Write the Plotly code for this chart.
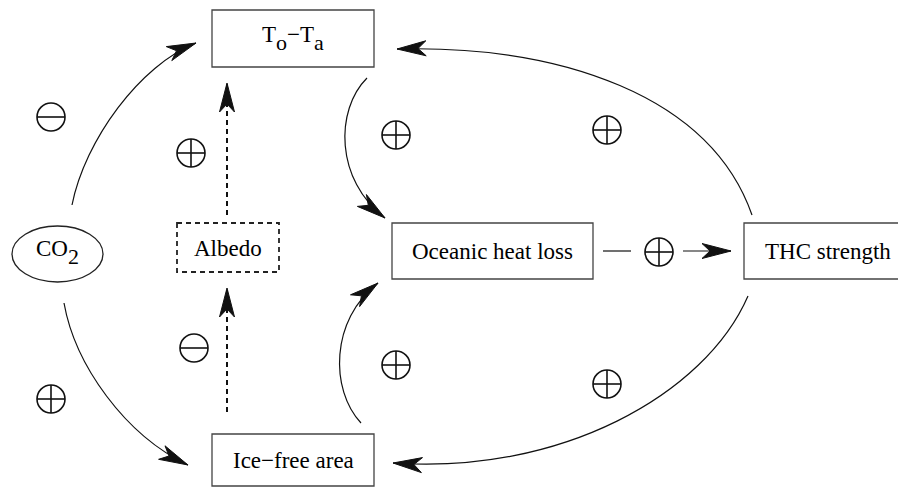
import math
import plotly.graph_objects as go

W, H = 898, 487

SUB = "<span style=\"font-size:22px;baseline-shift:-8px\">{}</span>"
# ---- nodes ----
node_labels = ["T" + SUB.format("o") + "−T" + SUB.format("a"),
               "CO" + SUB.format("2"), "Albedo",
               "Oceanic heat loss", "THC strength", "Ice−free area"]
node_shape = ["rect", "ellipse", "dashrect", "rect", "rect", "rect"]
node_x0 = [212, 12, 177, 392, 744, 212]
node_x1 = [374, 103, 279, 593, 905, 374]
node_y0 = [10, 226, 223, 223, 223, 434]
node_y1 = [67, 282, 272, 279, 279, 486]
label_x = [293, 57, 228, 492, 828, 293]
label_y = [38, 252, 248, 251, 251, 460]

# ---- feedback signs ----
sign_kind = ["minus", "plus", "plus", "plus", "plus", "minus", "plus", "plus", "plus"]
sign_x = [51, 191, 396, 607, 659, 194, 51, 396, 607]
sign_y = [117, 153, 135, 130, 252, 348, 399, 365, 384]

# ---- curved links (cubic Bezier: start, c1, c2, tip) ----
curve_links = [
    [(72, 205), (85, 140), (140, 65), (196, 43)],      # CO2 -> To-Ta
    [(64, 303), (75, 365), (125, 435), (188, 465)],    # CO2 -> Ice-free
    [(367, 78), (335, 110), (335, 180), (385, 218)],   # To-Ta -> Oceanic
    [(361, 423), (330, 390), (330, 320), (378, 283)],  # Ice-free -> Oceanic
    [(752, 215), (710, 95), (560, 45), (397, 49)],     # THC -> To-Ta
    [(748, 296), (705, 395), (560, 475), (393, 463)],  # THC -> Ice-free
]
# ---- straight links (start, tip, dashed) ----
straight_links = [
    [(227, 215), (227, 83), True],    # Albedo -> To-Ta
    [(227, 412), (227, 288), True],   # Ice-free -> Albedo
    [(683, 251), (731, 251), False],  # Oceanic -> THC (after sign)
]
plain_segments = [[(603, 251), (631, 251)]]

INK = "#111111"
shapes = []


def arrowhead(tip, d, L=29, hw=7.5, notch=21):
    n = math.hypot(d[0], d[1])
    ux, uy = d[0] / n, d[1] / n
    px, py = -uy, ux
    bx, by = tip[0] - L * ux, tip[1] - L * uy
    b1 = (bx + hw * px, by + hw * py)
    b2 = (bx - hw * px, by - hw * py)
    nn = (tip[0] - notch * ux, tip[1] - notch * uy)
    path = "M {:.1f},{:.1f} L {:.1f},{:.1f} L {:.1f},{:.1f} L {:.1f},{:.1f} Z".format(
        tip[0], tip[1], b1[0], b1[1], nn[0], nn[1], b2[0], b2[1])
    return dict(type="path", path=path, xref="x", yref="y",
                fillcolor=INK, line=dict(color=INK, width=1))


# nodes
for shp, x0, x1, y0, y1 in zip(node_shape, node_x0, node_x1, node_y0, node_y1):
    if shp == "ellipse":
        shapes.append(dict(type="circle", xref="x", yref="y", x0=x0, x1=x1, y0=y0, y1=y1,
                           line=dict(color="#222", width=1.3)))
    elif shp == "dashrect":
        shapes.append(dict(type="rect", xref="x", yref="y", x0=x0, x1=x1, y0=y0, y1=y1,
                           line=dict(color="#222", width=1.8, dash="5px,4px")))
    else:
        shapes.append(dict(type="rect", xref="x", yref="y", x0=x0, x1=x1, y0=y0, y1=y1,
                           line=dict(color="#444", width=1.3)))

# curves
for p0, p1, p2, p3 in curve_links:
    path = "M {},{} C {},{} {},{} {},{}".format(p0[0], p0[1], p1[0], p1[1],
                                               p2[0], p2[1], p3[0], p3[1])
    shapes.append(dict(type="path", path=path, xref="x", yref="y",
                       line=dict(color=INK, width=1.2)))
    shapes.append(arrowhead(p3, (p3[0] - p2[0], p3[1] - p2[1])))

# straight arrows
for s, t, dashed in straight_links:
    shapes.append(dict(type="line", xref="x", yref="y", x0=s[0], y0=s[1], x1=t[0], y1=t[1],
                       line=dict(color=INK, width=2 if dashed else 1.2,
                                 dash="5px,4px" if dashed else "solid")))
    shapes.append(arrowhead(t, (t[0] - s[0], t[1] - s[1])))

for s, t in plain_segments:
    shapes.append(dict(type="line", xref="x", yref="y", x0=s[0], y0=s[1], x1=t[0], y1=t[1],
                       line=dict(color=INK, width=1.2)))

# signs
R = 14
for k, x, y in zip(sign_kind, sign_x, sign_y):
    shapes.append(dict(type="circle", xref="x", yref="y", x0=x - R, x1=x + R, y0=y - R, y1=y + R,
                       line=dict(color=INK, width=1.6)))
    shapes.append(dict(type="line", xref="x", yref="y", x0=x - R, x1=x + R, y0=y, y1=y,
                       line=dict(color=INK, width=1.6)))
    if k == "plus":
        shapes.append(dict(type="line", xref="x", yref="y", x0=x, x1=x, y0=y - R, y1=y + R,
                           line=dict(color=INK, width=1.6)))

annotations = []
for lab, x, y in zip(node_labels, label_x, label_y):
    annotations.append(dict(x=x, y=y, xref="x", yref="y", text=lab, showarrow=False,
                            xanchor="center", yanchor="middle",
                            font=dict(family="Liberation Serif, Times New Roman, serif",
                                      size=23, color="black")))

fig = go.Figure()
fig.update_layout(
    width=W, height=H,
    margin=dict(l=0, r=0, t=0, b=0),
    paper_bgcolor="white", plot_bgcolor="white",
    xaxis=dict(range=[0, W], visible=False, fixedrange=True),
    yaxis=dict(range=[H, 0], visible=False, fixedrange=True),
    shapes=shapes,
    annotations=annotations,
    showlegend=False,
)
fig.write_html("out.html", config={"displayModeBar": False},
               post_script="document.body.style.margin='0';document.body.style.overflow='hidden';")
